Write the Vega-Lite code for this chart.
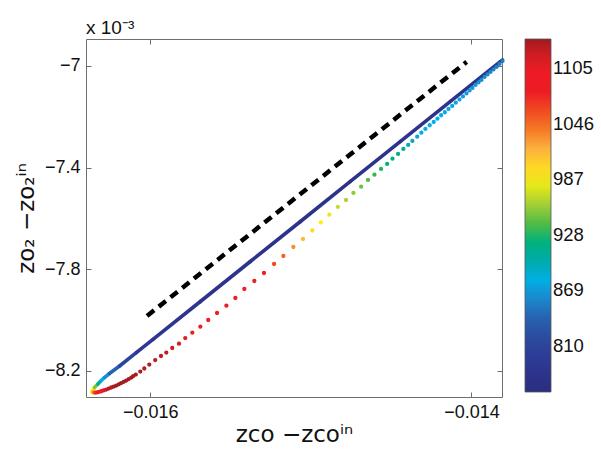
{
  "$schema": "https://vega.github.io/schema/vega-lite/v6.json",
  "width": 416,
  "height": 358,
  "autosize": {"type": "none"},
  "padding": {"left": 86, "top": 39, "right": 99, "bottom": 52},
  "background": "white",
  "title": {"text": "x 10⁻³", "anchor": "start", "frame": "group", "offset": 5, "dy": 19, "baseline": "alphabetic", "font": "Liberation Sans", "fontSize": 19, "fontWeight": "normal", "color": "#111"},
  "config": {
    "font": "Liberation Sans",
    "view": {"stroke": "#6e6e6e", "strokeWidth": 1},
    "axis": {"grid": false, "domain": false, "tickColor": "#6e6e6e", "tickSize": -5, "labelPadding": 11, "labelFontSize": 18, "labelColor": "#111", "titleFontSize": 23, "titleFontWeight": "normal", "titleColor": "#111", "labelFont": "Liberation Sans", "titleFont": "DejaVu Sans"},
    "legend": {"padding": 0, "offset": 22, "gradientLength": 353, "gradientThickness": 26, "labelFontSize": 18.5, "labelColor": "#111", "labelOffset": 9, "gradientStrokeColor": "#555", "gradientStrokeWidth": 0.8}
  },
  "datasets": {
    "ref": [
      {"x": -0.01602, "y": -0.007984},
      {"x": -0.01403, "y": -0.006984}
    ],
    "upper": [
      {"i": 1, "x": -0.016363, "y": -0.0082815, "T": 990},
      {"i": 2, "x": -0.016347, "y": -0.0082657, "T": 950},
      {"i": 3, "x": -0.016326, "y": -0.0082520, "T": 910},
      {"i": 4, "x": -0.016305, "y": -0.0082382, "T": 875},
      {"i": 5, "x": -0.016285, "y": -0.0082264, "T": 862},
      {"i": 6, "x": -0.016254, "y": -0.0082106, "T": 840},
      {"i": 7, "x": -0.016191, "y": -0.0081811, "T": 810},
      {"i": 8, "x": -0.016087, "y": -0.0081287, "T": 792},
      {"i": 9, "x": -0.015983, "y": -0.0080760, "T": 785},
      {"i": 10, "x": -0.015688, "y": -0.0079272, "T": 782},
      {"i": 11, "x": -0.015377, "y": -0.0077697, "T": 780},
      {"i": 12, "x": -0.015065, "y": -0.0076122, "T": 780},
      {"i": 13, "x": -0.014754, "y": -0.0074547, "T": 780},
      {"i": 14, "x": -0.014442, "y": -0.0072972, "T": 780},
      {"i": 15, "x": -0.014131, "y": -0.0071398, "T": 782},
      {"i": 16, "x": -0.013807, "y": -0.0069764, "T": 790}
    ],
    "lower": [
      {"x": -0.016363, "y": -0.0082815, "T": 990},
      {"x": -0.016356, "y": -0.0082843, "T": 1020},
      {"x": -0.016349, "y": -0.0082854, "T": 1045},
      {"x": -0.016340, "y": -0.0082854, "T": 1070},
      {"x": -0.016330, "y": -0.0082846, "T": 1090},
      {"x": -0.016318, "y": -0.0082827, "T": 1102},
      {"x": -0.016305, "y": -0.0082803, "T": 1110},
      {"x": -0.016290, "y": -0.0082772, "T": 1118},
      {"x": -0.016274, "y": -0.0082736, "T": 1124},
      {"x": -0.016259, "y": -0.0082697, "T": 1128},
      {"x": -0.016243, "y": -0.0082657, "T": 1131},
      {"x": -0.016227, "y": -0.0082618, "T": 1133},
      {"x": -0.016212, "y": -0.0082579, "T": 1134},
      {"x": -0.016196, "y": -0.0082531, "T": 1135},
      {"x": -0.016181, "y": -0.0082480, "T": 1135},
      {"x": -0.016165, "y": -0.0082433, "T": 1135},
      {"x": -0.016150, "y": -0.0082382, "T": 1134},
      {"x": -0.016134, "y": -0.0082323, "T": 1134},
      {"x": -0.016118, "y": -0.0082264, "T": 1133},
      {"x": -0.016106, "y": -0.0082205, "T": 1133},
      {"x": -0.016090, "y": -0.0082146, "T": 1132},
      {"x": -0.016062, "y": -0.0082028, "T": 1131},
      {"x": -0.016037, "y": -0.0081909, "T": 1130},
      {"x": -0.016006, "y": -0.0081752, "T": 1129},
      {"x": -0.015969, "y": -0.0081575, "T": 1128},
      {"x": -0.015933, "y": -0.0081417, "T": 1127},
      {"x": -0.015900, "y": -0.0081280, "T": 1125},
      {"x": -0.015863, "y": -0.0081102, "T": 1122},
      {"x": -0.015821, "y": -0.0080933, "T": 1118},
      {"x": -0.015782, "y": -0.0080709, "T": 1114},
      {"x": -0.015738, "y": -0.0080500, "T": 1111},
      {"x": -0.015688, "y": -0.0080264, "T": 1108},
      {"x": -0.015639, "y": -0.0080000, "T": 1106},
      {"x": -0.015584, "y": -0.0079724, "T": 1104},
      {"x": -0.015526, "y": -0.0079437, "T": 1101},
      {"x": -0.015470, "y": -0.0079134, "T": 1097},
      {"x": -0.015414, "y": -0.0078780, "T": 1093},
      {"x": -0.015352, "y": -0.0078465, "T": 1088},
      {"x": -0.015292, "y": -0.0078150, "T": 1078},
      {"x": -0.015229, "y": -0.0077795, "T": 1062},
      {"x": -0.015171, "y": -0.0077480, "T": 1048},
      {"x": -0.015109, "y": -0.0077126, "T": 1033},
      {"x": -0.015049, "y": -0.0076811, "T": 1015},
      {"x": -0.014991, "y": -0.0076476, "T": 998},
      {"x": -0.014938, "y": -0.0076161, "T": 988},
      {"x": -0.014885, "y": -0.0075854, "T": 980},
      {"x": -0.014832, "y": -0.0075551, "T": 971},
      {"x": -0.014781, "y": -0.0075276, "T": 963},
      {"x": -0.014735, "y": -0.0075000, "T": 955},
      {"x": -0.014687, "y": -0.0074752, "T": 946},
      {"x": -0.014644, "y": -0.0074488, "T": 940},
      {"x": -0.014604, "y": -0.0074280, "T": 935},
      {"x": -0.014563, "y": -0.0074055, "T": 930},
      {"x": -0.014525, "y": -0.0073858, "T": 924},
      {"x": -0.014492, "y": -0.0073650, "T": 918},
      {"x": -0.014457, "y": -0.0073465, "T": 912},
      {"x": -0.014424, "y": -0.0073268, "T": 905},
      {"x": -0.014394, "y": -0.0073110, "T": 899},
      {"x": -0.014368, "y": -0.0072953, "T": 893},
      {"x": -0.014338, "y": -0.0072783, "T": 887},
      {"x": -0.014312, "y": -0.0072626, "T": 881},
      {"x": -0.014287, "y": -0.0072480, "T": 878},
      {"x": -0.014260, "y": -0.0072335, "T": 877},
      {"x": -0.014235, "y": -0.0072205, "T": 876},
      {"x": -0.014212, "y": -0.0072075, "T": 875},
      {"x": -0.014189, "y": -0.0071941, "T": 874},
      {"x": -0.014166, "y": -0.0071823, "T": 873},
      {"x": -0.014143, "y": -0.0071693, "T": 872},
      {"x": -0.014120, "y": -0.0071575, "T": 871},
      {"x": -0.014098, "y": -0.0071445, "T": 870},
      {"x": -0.014075, "y": -0.0071319, "T": 869},
      {"x": -0.014053, "y": -0.0071201, "T": 868},
      {"x": -0.014031, "y": -0.0071083, "T": 867},
      {"x": -0.014012, "y": -0.0070965, "T": 866},
      {"x": -0.013994, "y": -0.0070866, "T": 865},
      {"x": -0.013975, "y": -0.0070748, "T": 864},
      {"x": -0.013956, "y": -0.0070650, "T": 863},
      {"x": -0.013938, "y": -0.0070551, "T": 862},
      {"x": -0.013919, "y": -0.0070433, "T": 861},
      {"x": -0.013900, "y": -0.0070335, "T": 860},
      {"x": -0.013882, "y": -0.0070236, "T": 859},
      {"x": -0.013863, "y": -0.0070138, "T": 858},
      {"x": -0.013844, "y": -0.0070039, "T": 857},
      {"x": -0.013826, "y": -0.0069921, "T": 856},
      {"x": -0.013807, "y": -0.0069803, "T": 855}
    ]
  },
  "layer": [
    {
      "data": {"name": "ref"},
      "mark": {"type": "line", "color": "black", "strokeWidth": 4.5, "strokeDash": [9, 6], "strokeCap": "butt"},
      "encoding": {
        "x": {"field": "x", "type": "quantitative", "scale": {"domain": [-0.0164, -0.01381], "nice": false, "zero": false},
              "axis": {"orient": "bottom", "values": [-0.016, -0.014], "format": ".3f", "title": "zᴄᴏ −zᴄᴏⁱⁿ", "titlePadding": 2}},
        "y": {"field": "y", "type": "quantitative", "scale": {"domain": [-0.008303, -0.006894], "nice": false, "zero": false},
              "axis": {"orient": "left", "values": [-0.0082, -0.0078, -0.0074, -0.007], "labelExpr": "format(datum.value*1000, '~g')", "title": "zᴏ₂ −zᴏ₂ⁱⁿ", "titlePadding": 6}}
      }
    },
    {
      "data": {"name": "upper"},
      "transform": [
        {"window": [{"op": "lead", "field": "x", "as": "x2"}, {"op": "lead", "field": "y", "as": "y2"}], "sort": [{"field": "i"}]},
        {"filter": "datum.x2 != null"}
      ],
      "mark": {"type": "rule", "strokeWidth": 3.6, "strokeCap": "round"},
      "encoding": {
        "x": {"field": "x", "type": "quantitative", "axis": {"orient": "top", "values": [-0.016, -0.014], "labels": false, "title": null}},
        "y": {"field": "y", "type": "quantitative", "axis": {"orient": "right", "values": [-0.0082, -0.0078, -0.0074, -0.007], "labels": false, "title": null}},
        "x2": {"field": "x2"},
        "y2": {"field": "y2"},
        "color": {"field": "T", "type": "quantitative",
                  "scale": {"domain": [761, 790, 830, 855, 875, 905, 935, 965, 987, 1020, 1046, 1075, 1110, 1136],
                            "range": ["#2b2e7e", "#2e3592", "#2c53a3", "#1f7cc1", "#00aeef", "#00a99d", "#39b54a", "#b5d334", "#fff200", "#fbb040", "#f26522", "#ed1c24", "#ed1c24", "#9e1b1e"]},
                  "legend": {"type": "gradient", "title": null, "values": [810, 869, 928, 987, 1046, 1105], "format": "d", "direction": "vertical"}}
      }
    },
    {
      "data": {"name": "lower"},
      "mark": {"type": "point", "shape": "circle", "filled": false, "size": 4, "strokeWidth": 2.3, "opacity": 1},
      "encoding": {
        "x": {"field": "x", "type": "quantitative", "axis": null},
        "y": {"field": "y", "type": "quantitative", "axis": null},
        "color": {"field": "T", "type": "quantitative"}
      }
    }
  ],
  "resolve": {"axis": {"x": "independent", "y": "independent"}}
}
